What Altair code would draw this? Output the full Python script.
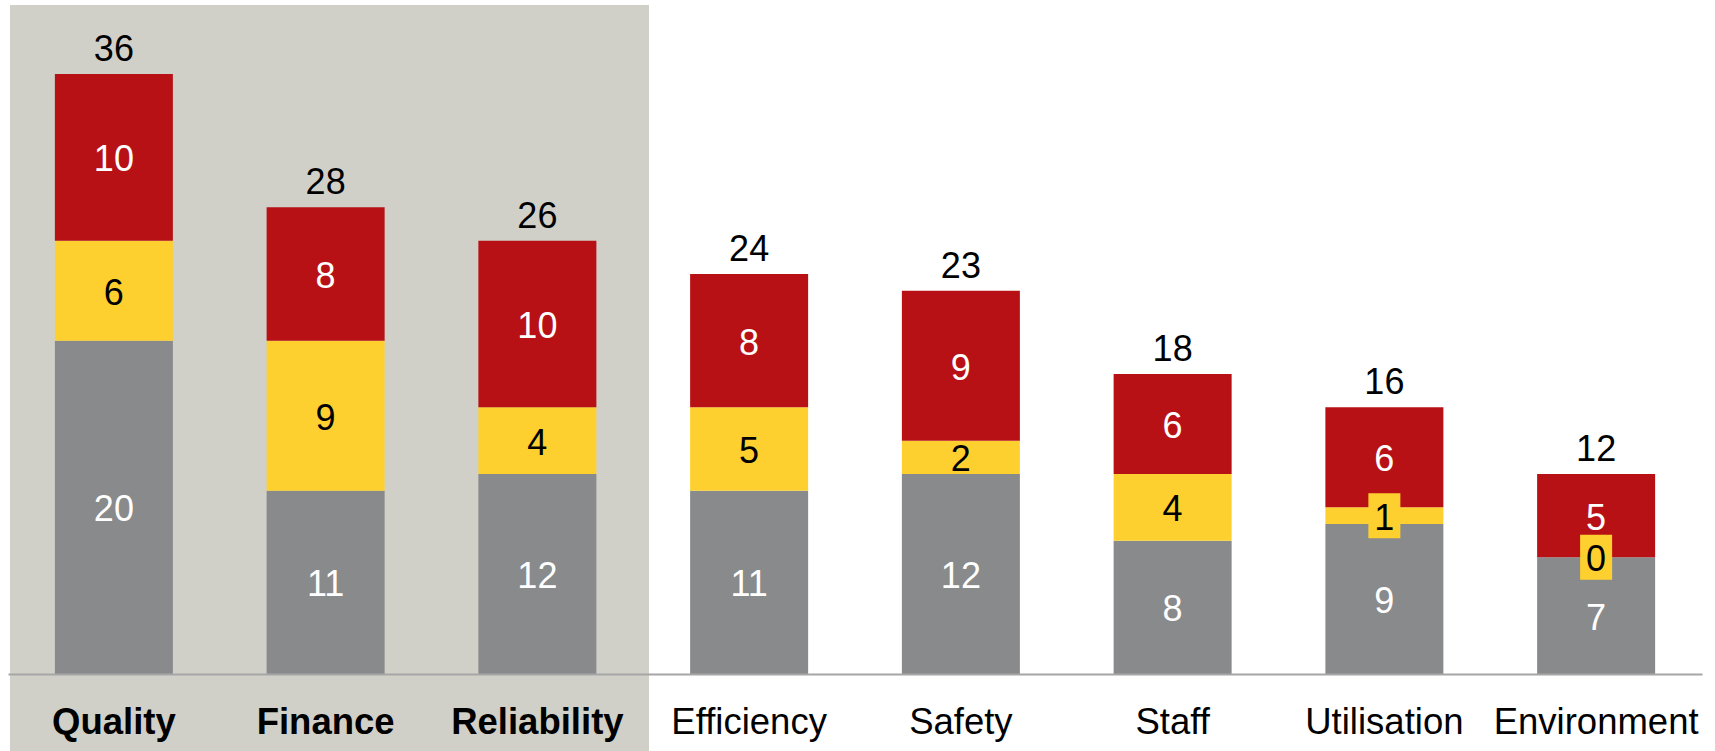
import altair as alt
import pandas as pd

categories = ["Quality", "Finance", "Reliability", "Efficiency", "Safety", "Staff", "Utilisation", "Environment"]
bold_categories = ["Quality", "Finance", "Reliability"]
gray_vals = [20, 11, 12, 11, 12, 8, 9, 7]
yellow_vals = [6, 9, 4, 5, 2, 4, 1, 0]
red_vals = [10, 8, 10, 8, 9, 6, 6, 5]
series_names = ["gray", "yellow", "red"]
series_colors = ["#898A8C", "#FDD02F", "#B71116"]
label_colors = ["white", "black", "white"]

rows = []
for i, c in enumerate(categories):
    base = 0
    for s, vals, lc in zip(series_names, [gray_vals, yellow_vals, red_vals], label_colors):
        v = vals[i]
        rows.append({"cat": c, "series": s, "value": v, "y0": base, "y1": base + v,
                     "mid": base + v / 2, "lc": lc})
        base += v
df = pd.DataFrame(rows)
totals = pd.DataFrame({"cat": categories,
                       "total": [g + y + r for g, y, r in zip(gray_vals, yellow_vals, red_vals)]})

FONT = "Liberation Sans"
xenc = alt.X("cat:N", sort=categories,
             scale=alt.Scale(paddingInner=0, paddingOuter=0),
             axis=alt.Axis(title=None, ticks=False, tickSize=0, labelPadding=59,
                           labelBaseline="alphabetic", labelFontSize=36.5, labelFont=FONT,
                           labelColor="black", labelAngle=0, labelLimit=400,
                           labelOverlap=False, domainColor="#A6A6A6", domainWidth=2,
                           zindex=1,
                           labelFontWeight=alt.expr(
                               "indexof(['Quality','Finance','Reliability'], datum.value) >= 0 ? 'bold' : 'normal'")))
yscale = alt.Scale(domain=[0, 40.14], nice=False)

bg = alt.Chart(pd.DataFrame({"a": [0]})).mark_rect(color="#D0D0C8").encode(
    x=alt.value(2), x2=alt.value(641), y=alt.value(0), y2=alt.value(746))

bars = alt.Chart(df).mark_bar(size=118).encode(
    x=xenc,
    y=alt.Y("y0:Q", scale=yscale, axis=None),
    y2="y1:Q",
    color=alt.Color("series:N", scale=alt.Scale(domain=series_names, range=series_colors), legend=None),
)

boxes = alt.Chart(df).transform_filter(
    "datum.series == 'yellow' && datum.value < 2"
).mark_point(shape="M-0.711,-1L0.711,-1L0.711,1L-0.711,1Z", size=2025, filled=True,
             opacity=1, color="#FDD02F", strokeWidth=0).encode(
    x=alt.X("cat:N", sort=categories),
    y=alt.Y("mid:Q", scale=yscale),
)

seg_labels = alt.Chart(df).mark_text(fontSize=36, font=FONT, baseline="middle", dy=3).encode(
    x=alt.X("cat:N", sort=categories),
    y=alt.Y("mid:Q", scale=yscale),
    text="value:Q",
    color=alt.Color("lc:N", scale=None),
)

tot_labels = alt.Chart(totals).mark_text(fontSize=36, font=FONT, baseline="alphabetic", dy=-13,
                                         color="black").encode(
    x=alt.X("cat:N", sort=categories),
    y=alt.Y("total:Q", scale=yscale),
    text="total:Q",
)

chart = alt.layer(bg, bars, boxes, seg_labels, tot_labels).properties(
    width=1694, height=669,
    padding={"left": 8, "top": 5, "right": 13, "bottom": 77},
    autosize="none",
    background="white",
).configure_view(stroke=None)

chart.save("out.html", embed_options={"renderer": "svg", "actions": False})
